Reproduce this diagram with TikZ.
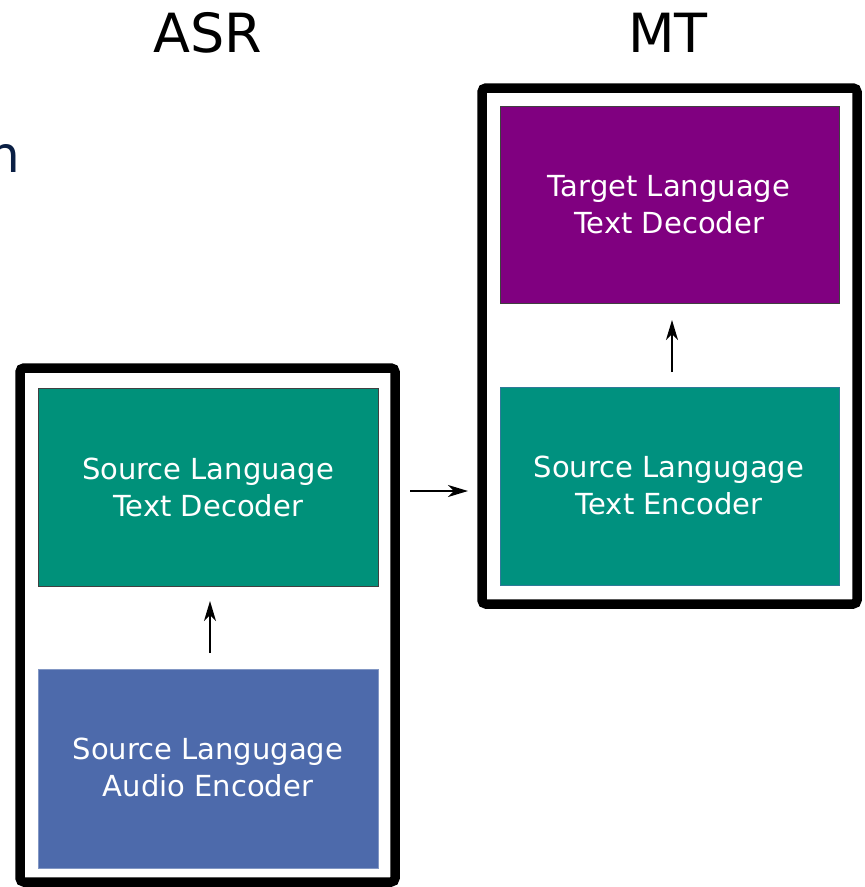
\documentclass[tikz,border=0pt]{standalone}
\usepackage{fontspec}
\setmainfont{DejaVu Sans}
\usetikzlibrary{arrows.meta}
\definecolor{tealbox}{HTML}{00917A}
\definecolor{tealenc}{HTML}{00917F}
\definecolor{bluebox}{HTML}{4D6AAB}
\definecolor{purplebox}{HTML}{800080}
\definecolor{navytext}{HTML}{0A1F44}
\tikzset{
  frame/.style={draw=black, line width=9.5pt, rounded corners=4pt},
  block/.style={draw=#1, line width=0.8pt, text=white, align=center,
    font=\fontsize{29}{37}\selectfont},
  title/.style={font=\fontsize{54}{60}\selectfont, text=black},
  flow/.style={-{Stealth[length=20pt,width=12pt,inset=6pt]}, line width=1.4pt},
}
\begin{document}
\begin{tikzpicture}[x=1pt,y=-1pt]
  \useasboundingbox (0,0) rectangle (865,887);
  \clip (0,0) rectangle (865,887);

  % heading fragment running in from the left edge
  \node[anchor=base east, text=navytext, font=\fontsize{50}{60}\selectfont, inner sep=0pt]
    (frag) at (20,172) {n};

  % column titles
  \node[title, anchor=base] (asrtitle) at (208,52) {ASR};
  \node[title, anchor=base] (mttitle) at (668,52) {MT};

  % ASR frame and its blocks
  \draw[frame] (20,368) rectangle (395,882);
  \path[block=black!75, fill=tealbox] (38,388) rectangle (378,586);
  \node[block=none, text=white] (srcdec) at (208,487) {Source Language\\Text Decoder};
  \path[block=bluebox!70!white, fill=bluebox] (38,669) rectangle (378,868);
  \node[block=none] (audenc) at (208,767) {Source Langugage\\Audio Encoder};

  % MT frame and its blocks
  \draw[frame] (482,88) rectangle (857,604);
  \path[block=black!75, fill=purplebox] (500,106) rectangle (839,303);
  \node[block=none] (tgtdec) at (669,205) {Target Language\\Text Decoder};
  \path[block=bluebox!60!tealenc, fill=tealenc] (500,387) rectangle (839,585);
  \node[block=none] (srcenc) at (669,485) {Source Langugage\\Text Encoder};

  % anchors for the connectors
  \coordinate (a1s) at (210,653);
  \coordinate (a1e) at (210,601);
  \coordinate (a2s) at (410,491);
  \coordinate (a2e) at (468,491);
  \coordinate (a3s) at (672,372);
  \coordinate (a3e) at (672,320);

  \draw[flow] (a1s) -- (a1e);
  \draw[flow] (a2s) -- (a2e);
  \draw[flow] (a3s) -- (a3e);
\end{tikzpicture}
\end{document}
